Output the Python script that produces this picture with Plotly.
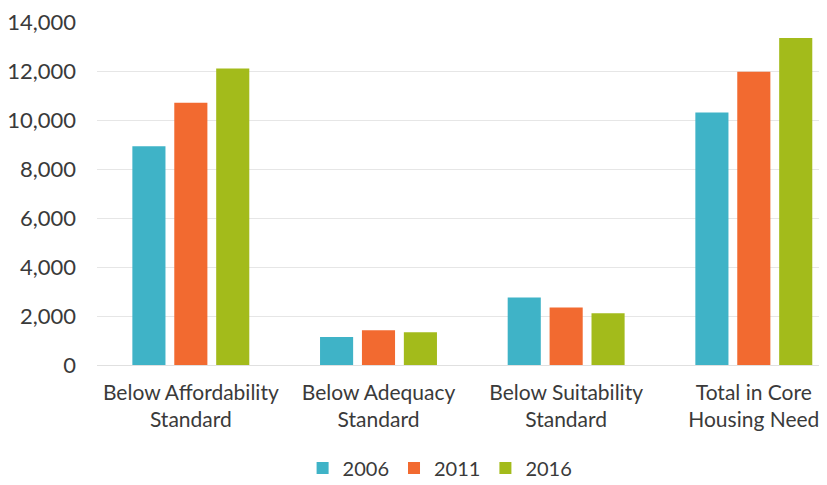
import plotly.graph_objects as go

categories = ["Below Affordability<br>Standard", "Below Adequacy<br>Standard",
              "Below Suitability<br>Standard", "Total in Core<br>Housing Need"]
years = ["2006", "2011", "2016"]
v2006 = [8930, 1140, 2760, 10310]
v2011 = [10700, 1420, 2350, 11970]
v2016 = [12100, 1340, 2110, 13350]
colors = ["#3fb3c7", "#f26a30", "#a3bb1b"]
tick_vals = [0, 2000, 4000, 6000, 8000, 10000, 12000, 14000]

fig = go.Figure()
for name, vals, c in zip(years, [v2006, v2011, v2016], colors):
    fig.add_trace(go.Bar(x=categories, y=vals, name=name, marker_color=c,
                         marker_line_width=0))

# page body has an 8px margin, so the figure is sized to fit the window
fig.update_layout(
    width=819, height=477,
    margin=dict(l=89, r=0, t=14, b=120, autoexpand=False),
    paper_bgcolor="white", plot_bgcolor="white",
    font=dict(family="Lato, Open Sans, sans-serif", size=21, color="#3a3a3a"),
    barmode="group", bargap=0.33, bargroupgap=0.21,
    legend=dict(orientation="h", x=0.47, xanchor="center", y=-0.30,
                yanchor="middle", font=dict(size=20), itemwidth=30),
)
fig.update_xaxes(range=[-0.5, 3.39], showgrid=False, showline=False,
                 ticks="", tickfont=dict(size=21), automargin=False,
                 ticklabelstandoff=13)
fig.update_yaxes(range=[0, 14000], tickvals=tick_vals, tickformat=",",
                 showgrid=True, gridcolor="#e6e6e6", gridwidth=1,
                 zeroline=True, zerolinecolor="#e0e0e0", zerolinewidth=1,
                 ticks="", ticklabelstandoff=20, tickfont=dict(size=22),
                 ticklabeloverflow="allow", automargin=False)

fig.write_html("out.html")
